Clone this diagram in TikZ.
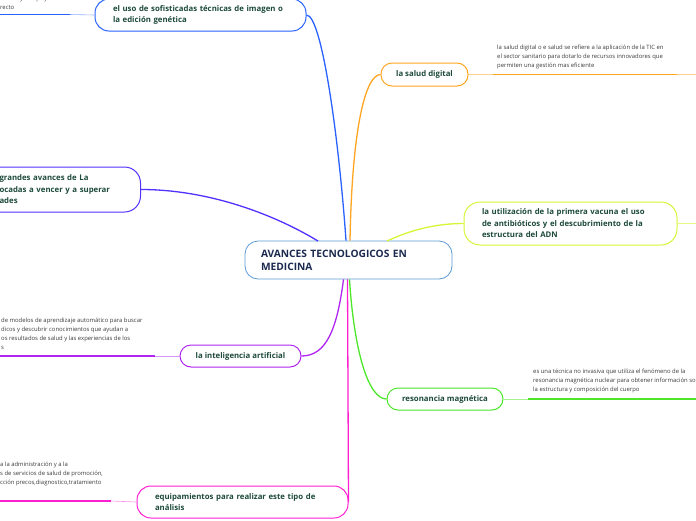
\documentclass[tikz,border=0pt]{standalone}
\usepackage{fontspec}
\setmainfont{Open Sans}
\usepackage{tikz}
\usetikzlibrary{positioning}

\definecolor{titlecol}{RGB}{27,42,78}
\definecolor{topiccol}{RGB}{29,74,60}
\definecolor{notecol}{RGB}{60,60,60}
\definecolor{mainbox}{RGB}{91,155,213}
\definecolor{cblue}{RGB}{41,98,255}
\definecolor{corange}{RGB}{255,165,31}
\definecolor{cindigo}{RGB}{80,50,255}
\definecolor{clime}{RGB}{215,245,52}
\definecolor{cpurple}{RGB}{176,38,240}
\definecolor{cgreen}{RGB}{76,230,42}
\definecolor{cmagenta}{RGB}{255,31,210}

\begin{document}
\begin{tikzpicture}[x=1pt,y=-1pt,
  topic/.style={draw,fill=white,line width=1pt,rounded corners=11pt,
    text=topiccol,font=\fontsize{7.8}{11.5}\selectfont\bfseries,inner ysep=0pt},
  wide/.style={text width=#1,align=left,inner xsep=18pt},
  note/.style={text=notecol,font=\fontsize{5.9}{9}\selectfont,align=left,
    inner sep=0pt,anchor=north west},
  branch/.style={line width=1.3pt},
  stub/.style={line width=0.6pt},
  under/.style={line width=1.8pt}]
\useasboundingbox (0,0) rectangle (696,520);
\clip (0,0) rectangle (696,520);

%central topic
\node[draw=mainbox,fill=white,line width=0.8pt,rounded corners=13pt,
  text width=175pt,align=left,inner xsep=16pt,minimum height=38pt,
  text=titlecol,font=\fontsize{10.2}{13}\selectfont\bfseries]
  (main) at (348.5,260) {AVANCES TECNOLOGICOS EN\\MEDICINA};

\coordinate (mb) at ([xshift=-2.5pt]main.north);
\coordinate (mo) at ([xshift=1.5pt]main.north);
\coordinate (mi) at (318,241);
\coordinate (ml) at (387,241);
\coordinate (mp) at ([xshift=-5pt]main.south);
\coordinate (mg) at ([xshift=1pt]main.south);
\coordinate (mm) at ([xshift=-1pt]main.south);

%topics
\node[topic,draw=cblue,wide=175pt,minimum height=32pt,rounded corners=14pt]
  (imagen) at (200.5,15) {el uso de sofisticadas técnicas de imagen o\\la edición genética};
\node[topic,draw=corange,minimum width=87pt,minimum height=23pt]
  (salud) at (424.5,74.5) {la salud digital};
\node[topic,draw=cindigo,wide=123pt,minimum height=45pt,rounded corners=16pt,anchor=east]
  (grandes) at (141,189.5) {grandes avances de La\\ocadas a vencer y a superar\\ades};
\node[topic,draw=clime,wide=177pt,minimum height=43pt,rounded corners=16pt]
  (vacuna) at (570.5,223.5) {la utilización de la primera vacuna el uso\\de antibióticos y el descubrimiento de la\\estructura del ADN};
\node[topic,draw=cpurple,minimum width=121pt,minimum height=22pt]
  (ia) at (240.5,356) {la inteligencia artificial};
\node[topic,draw=cgreen,minimum width=116pt,minimum height=22pt]
  (reso) at (445,399) {resonancia magnética};
\node[topic,draw=cmagenta,wide=175pt,minimum height=32pt,rounded corners=14pt]
  (equipo) at (242.5,502) {equipamientos para realizar este tipo de\\análisis};

%branches
\draw[branch,cblue] (imagen.east) .. controls (322,15) and (339,140) .. (mb);
\draw[branch,corange] (salud.west) .. controls (365,75) and (352,130) .. (mo);
\draw[branch,cindigo] (grandes.east) .. controls (205,189.5) and (270,212) .. (mi);
\draw[branch,clime] (vacuna.west) .. controls (440,223.5) and (415,228) .. (ml);
\draw[branch,cpurple] (ia.east) .. controls (326,356) and (337,330) .. (mp);
\draw[branch,cgreen] (reso.west) .. controls (368,399) and (354,350) .. (mg);
\draw[branch,cmagenta] (mm) -- (equipo.east);

%notes
\node[note] (nimagen) at (0,-4) {atadas y complejas\\recto};
\node[note] (nsalud) at (497,45) {la salud digital o e salud se refiere a la aplicación de la TIC en\\el sector sanitario para dotarlo de recursos innovadores que\\permiten una gestión mas eficiente};
\node[note] (nia) at (1,318) {de modelos de aprendizaje automático para buscar\\dicos y descubrir conocimientos que ayudan a\\os resultados de salud y las experiencias de los\\s};
\node[note] (nreso) at (533,369) {es una técnica no invasiva que utiliza el fenómeno de la\\resonancia magnética nuclear para obtener información sobre\\la estructura y composición del cuerpo};
\node[note] (nequipo) at (0,462) {a la administración y a la\\s de servicios de salud de promoción,\\cción precos,diagnostico,tratamiento};

%underlines
\coordinate (uimagen) at (70,14.5);
\coordinate (usalud1) at (493,74.5);
\coordinate (usalud2) at (677,74.5);
\coordinate (uia) at (155,356);
\coordinate (ureso) at (528,399);
\coordinate (uequipo) at (111,501);

\draw[stub,cblue!50] (imagen.west) -- (uimagen);
\draw[under,cblue] (uimagen) -- (0,14.5);
\draw[stub,corange!50] (salud.east) -- (usalud1);
\draw[under,corange] (usalud1) -- (usalud2);
\draw[stub,corange!50] (usalud2) -- (696,74.5);
\draw[stub,clime!60] (vacuna.east) -- (696,223.5);
\draw[stub,cpurple!50] (ia.west) -- (uia);
\draw[under,cpurple] (uia) -- (0,356);
\draw[stub,cgreen!50] (reso.east) -- (ureso);
\draw[under,cgreen] (ureso) -- (696,399);
\draw[stub,cmagenta!50] (equipo.west) -- (uequipo);
\draw[under,cmagenta] (uequipo) -- (0,501);

\end{tikzpicture}
\end{document}
